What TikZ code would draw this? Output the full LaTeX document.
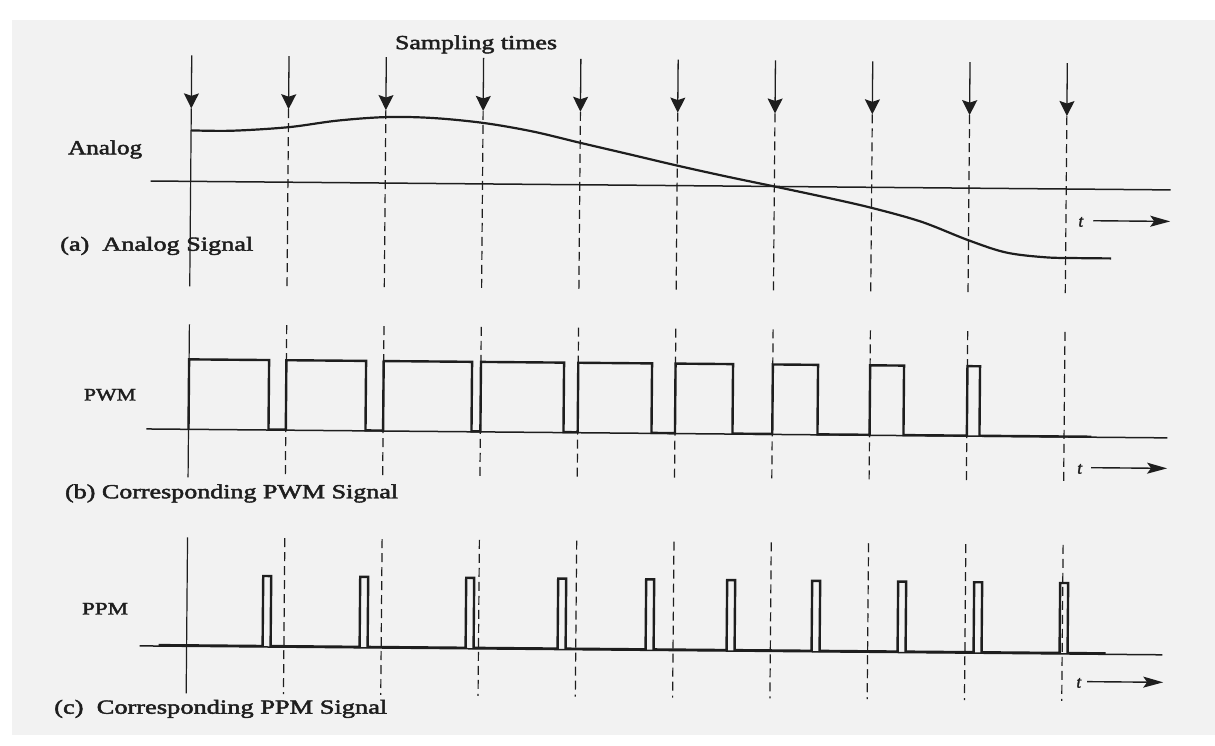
\documentclass[tikz,border=0pt]{standalone}
\usepackage{graphicx}
\usepackage{fontspec}
\setmainfont{Liberation Serif}[FakeBold=2]
\usetikzlibrary{arrows.meta}
\definecolor{ink}{HTML}{1E1E1E}
\definecolor{paper}{HTML}{F2F2F2}
\newcommand{\wbox}[2]{\resizebox{#1pt}{\height}{#2}}
\begin{document}
\begin{tikzpicture}[x=1pt,y=-1pt,
  sig/.style={line width=2.4pt, draw=ink, line join=miter},
  axisline/.style={line width=1.5pt, draw=ink},
  guide/.style={line width=1.2pt, draw=ink, dash pattern=on 9pt off 5pt},
  solidguide/.style={line width=1.2pt, draw=ink},
  samp/.style={line width=1.3pt, draw=ink, -{Stealth[length=15pt,width=15pt,inset=2.5pt]}},
  tarrow/.style={line width=1.4pt, draw=ink, -{Stealth[length=20pt,width=11pt,inset=4pt]}},
  lbl/.style={inner sep=0pt, text=ink, anchor=base west},
  caption/.style={lbl, font=\fontsize{20}{24}\selectfont},
  tlbl/.style={lbl, font=\itshape\fontsize{17}{20}\selectfont},
]
\useasboundingbox (0,0) rectangle (1215,745);
\fill[paper] (12,20) rectangle (1215,735);
\begin{scope}[rotate around={-0.5:(607,372)}]
% sampling times: arrows and guide lines
\foreach \x [count=\i] in {189,286.3,383.6,480.9,578.2,675.5,772.8,870.1,967.4,1064.7} {
  \coordinate (st\i) at (\x,59);
  \coordinate (sh\i) at (\x,112);
  \coordinate (ae\i) at (\x,290);
  \coordinate (bs\i) at (\x,328);
  \coordinate (be\i) at (\x,481);
  \coordinate (cs\i) at (\x,541);
  \coordinate (ce\i) at (\x,697);
  \draw[samp] (st\i) -- (sh\i);
}
\draw[solidguide] (sh1) -- (ae1);
\draw[solidguide] (bs1) -- (be1);
\draw[solidguide] (cs1) -- (ce1);
\foreach \i in {2,...,10} {
  \draw[guide] (sh\i) -- (ae\i);
  \draw[guide] (bs\i) -- (be\i);
  \draw[guide] (cs\i) -- (ce\i);
}
\node[lbl, font=\fontsize{20}{22}\selectfont] (samplbl) at (392,51) {\wbox{162}{Sampling times}};

% (a) analog
\coordinate (aaxL) at (149,185);
\coordinate (aaxR) at (1169,185);
\draw[axisline] (aaxL) -- (aaxR);
\draw[sig, line width=2.2pt] plot[smooth, tension=0.55] coordinates {
  (189,134) (230,134) (286,130) (335,123) (384,119) (430,119.5) (481,124)
  (530,132) (578,143) (627,154) (675.5,165) (725,175.5) (772.8,185)
  (822,195) (870,205.5) (920,219) (967,237) (1005,249) (1045,253.5)
  (1080,254) (1110,254)};
\node[caption] (analoglbl) at (66,159) {\wbox{74}{Analog}};
\node[caption] (capa) at (59,255.5) {\wbox{193}{(a)\ \ Analog Signal}};
\node[tlbl] (ta) at (1077,222.5) {t};
\coordinate (taS) at (1092,216.5);
\coordinate (taE) at (1169,216.5);
\draw[tarrow] (taS) -- (taE);

% (b) PWM
\coordinate (baxL) at (147,433);
\coordinate (baxR) at (1168,433);
\draw[axisline] (baxL) -- (baxR);
\draw[sig] (189,432.5)
  -- (189,363) -- (269,363) -- (269,432.5)
  -- (286.3,432.5) -- (286.3,363) -- (366,363) -- (366,432.5)
  -- (383.6,432.5) -- (383.6,363) -- (472,363) -- (472,432.5)
  -- (480.9,432.5) -- (480.9,363) -- (564,363) -- (564,432.5)
  -- (578.2,432.5) -- (578.2,363) -- (652,363) -- (652,432.5)
  -- (675.5,432.5) -- (675.5,363) -- (733,363) -- (733,432.5)
  -- (772.8,432.5) -- (772.8,363) -- (818,363) -- (818,432.5)
  -- (870.1,432.5) -- (870.1,363) -- (904,363) -- (904,432.5)
  -- (967.4,432.5) -- (967.4,363) -- (980,363) -- (980,432.5)
  -- (1092,432.5);
\node[lbl, font=\fontsize{17.5}{20}\selectfont] (pwmlbl) at (84,405) {\wbox{52}{PWM}};
\node[caption] (capb) at (66,503) {\wbox{333}{(b) Corresponding PWM Signal}};
\node[tlbl] (tb) at (1078,469.5) {t};
\coordinate (tbS) at (1092,463.5);
\coordinate (tbE) at (1168,463.5);
\draw[tarrow] (tbS) -- (tbE);

% (c) PPM
\coordinate (caxL) at (142,650);
\coordinate (caxR) at (1165,650);
\draw[axisline] (caxL) -- (caxR);
\draw[sig] (161,649)
  \foreach \f in {269,366,472,564,652,733,818,904,980,1066} {
    -- (\f-4,649) -- (\f-4,579) -- (\f+4,579) -- (\f+4,649)
  } -- (1108,649);
\node[lbl, font=\fontsize{17.5}{20}\selectfont] (ppmlbl) at (84,619) {\wbox{46}{PPM}};
\node[caption] (capc) at (57,718.5) {\wbox{333}{(c)\ \ Corresponding PPM Signal}};
\node[tlbl] (tc) at (1079,683.5) {t};
\coordinate (tcS) at (1090,677.5);
\coordinate (tcE) at (1166,677.5);
\draw[tarrow] (tcS) -- (tcE);
\end{scope}
\end{tikzpicture}
\end{document}
